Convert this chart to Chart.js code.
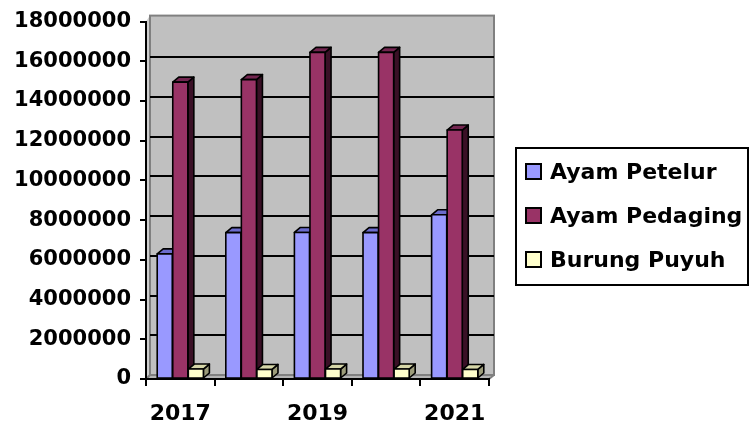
<!DOCTYPE html>
<html>
<head>
<meta charset="utf-8">
<script src="https://cdn.jsdelivr.net/npm/chart.js@4"></script>
<style>
  body { margin: 0; background: #fff; }
  canvas { display: block; }
</style>
</head>
<body>
<canvas id="c" width="749" height="430"></canvas>
<script>
// data
const years    = ['2017', '2018', '2019', '2020', '2021'];
const petelur  = [6300000, 7370000, 7380000, 7370000, 8270000];
const pedaging = [14950000, 15080000, 16450000, 16450000, 12540000];
const puyuh    = [500000, 480000, 500000, 500000, 480000];
const seriesNames = ['Ayam Petelur', 'Ayam Pedaging', 'Burung Puyuh'];

// face colours: front, top, side
const faces = [
  ['#9999ff', '#6b6bcc', '#4d4d80'],
  ['#993366', '#732650', '#3a1026'],
  ['#ffffcc', '#d6d6a8', '#9c9c7a']
];
const DX = 6, DY = -5; // depth of the 3d bars

Chart.defaults.font.family = "'DejaVu Sans', sans-serif";
Chart.defaults.font.weight = 'bold';
Chart.defaults.color = '#000';

const wall3d = {
  id: 'wall3d',
  beforeDraw(chart){
    const {ctx, chartArea: a} = chart;
    ctx.save();
    ctx.fillStyle = '#fff';
    ctx.fillRect(0, 0, chart.width, chart.height);
    // left side wall
    ctx.fillStyle = '#cfcfcf';
    ctx.beginPath();
    ctx.moveTo(a.left, a.top); ctx.lineTo(a.left+4, a.top-6);
    ctx.lineTo(a.left+4, a.bottom-4); ctx.lineTo(a.left, a.bottom);
    ctx.closePath(); ctx.fill();
    // floor
    ctx.fillStyle = '#b4b4b4';
    ctx.beginPath();
    ctx.moveTo(a.left, a.bottom); ctx.lineTo(a.left+4, a.bottom-4);
    ctx.lineTo(a.right+5, a.bottom-4); ctx.lineTo(a.right, a.bottom);
    ctx.closePath(); ctx.fill();
    // back wall
    ctx.fillStyle = '#c0c0c0';
    ctx.fillRect(a.left+4, a.top-6, a.right+1-a.left, a.bottom+2-a.top);
    ctx.strokeStyle = '#808080';
    ctx.lineWidth = 2;
    ctx.strokeRect(a.left+4, a.top-6, a.right+1-a.left, a.bottom+2-a.top);
    ctx.beginPath();
    ctx.moveTo(a.left, a.bottom); ctx.lineTo(a.left+4, a.bottom-4);
    ctx.moveTo(a.right, a.bottom); ctx.lineTo(a.right+5, a.bottom-4);
    ctx.stroke();
    ctx.restore();
  },
  beforeDatasetsDraw(chart){
    const {ctx, chartArea: a, scales} = chart;
    const y = scales.y;
    ctx.save();
    // grid lines on the back wall
    ctx.strokeStyle = '#000';
    ctx.lineWidth = 2;
    y.ticks.forEach(t => {
      if (t.value <= 0 || t.value >= y.max) return;
      const py = Math.round(y.getPixelForValue(t.value)) - 4;
      ctx.beginPath();
      ctx.moveTo(a.left+4, py); ctx.lineTo(a.right+5, py);
      ctx.stroke();
    });
    // bars, per category, left to right
    ctx.lineWidth = 1.6;
    ctx.lineJoin = 'round';
    for (let i = 0; i < years.length; i++){
      chart.data.datasets.forEach((ds, d) => {
        const bar = chart.getDatasetMeta(d).data[i];
        const x0 = bar.x - bar.width/2, x1 = bar.x + bar.width/2;
        const top = bar.y, base = bar.base;
        const [cf, ct, cs] = faces[d];
        // side
        ctx.fillStyle = cs;
        ctx.beginPath();
        ctx.moveTo(x1, top); ctx.lineTo(x1+DX, top+DY);
        ctx.lineTo(x1+DX, base+DY); ctx.lineTo(x1, base);
        ctx.closePath(); ctx.fill(); ctx.stroke();
        // top
        ctx.fillStyle = ct;
        ctx.beginPath();
        ctx.moveTo(x0, top); ctx.lineTo(x0+DX, top+DY);
        ctx.lineTo(x1+DX, top+DY); ctx.lineTo(x1, top);
        ctx.closePath(); ctx.fill(); ctx.stroke();
        // front
        ctx.fillStyle = cf;
        ctx.fillRect(x0, top, x1-x0, base-top);
        ctx.strokeRect(x0, top, x1-x0, base-top);
      });
    }
    ctx.restore();
    return false;
  },
  afterDraw(chart){
    const ctx = chart.ctx;
    ctx.save();
    ctx.strokeStyle = '#000';
    ctx.lineWidth = 2;
    ctx.strokeRect(516, 148, 232, 137);
    ctx.font = "bold 22px 'DejaVu Sans'";
    ctx.textBaseline = 'middle';
    chart.data.datasets.forEach((ds, d) => {
      const cy = 172 + d*44;
      ctx.fillStyle = ds.backgroundColor;
      ctx.fillRect(526, cy-8, 15, 15);
      ctx.strokeRect(526, cy-8, 15, 15);
      ctx.fillStyle = '#000';
      ctx.fillText(ds.label, 550, cy+1);
    });
    ctx.restore();
  }
};

new Chart(document.getElementById('c'), {
  type: 'bar',
  data: {
    labels: years,
    datasets: [
      { label: seriesNames[0], data: petelur,  backgroundColor: faces[0][0] },
      { label: seriesNames[1], data: pedaging, backgroundColor: faces[1][0] },
      { label: seriesNames[2], data: puyuh,    backgroundColor: faces[2][0] }
    ]
  },
  plugins: [wall3d],
  options: {
    responsive: false,
    animation: false,
    layout: { padding: { top: 20, right: 260, bottom: 0, left: 0 } },
    datasets: { bar: { categoryPercentage: 0.68, barPercentage: 0.97 } },
    plugins: { legend: { display: false }, tooltip: { enabled: false } },
    scales: {
      x: {
        grid: { offset: true, drawOnChartArea: false, color: '#000', lineWidth: 2, tickLength: 7 },
        border: { color: '#000', width: 2 },
        ticks: {
          autoSkip: false, maxRotation: 0, padding: 15,
          font: { size: 22, weight: 'bold' },
          callback(v, i){ return i % 2 === 0 ? this.getLabelForValue(v) : ''; }
        },
        afterFit(s){ s.height = 51; }
      },
      y: {
        min: 0, max: 18000000,
        grid: { drawOnChartArea: false, color: '#000', lineWidth: 2, tickLength: 6 },
        border: { color: '#000', width: 2 },
        ticks: {
          stepSize: 2000000, padding: 9, font: { size: 21, weight: 'bold' },
          callback: v => String(v)
        },
        afterFit(s){ s.width = 146; }
      }
    }
  }
});
</script>
</body>
</html>
